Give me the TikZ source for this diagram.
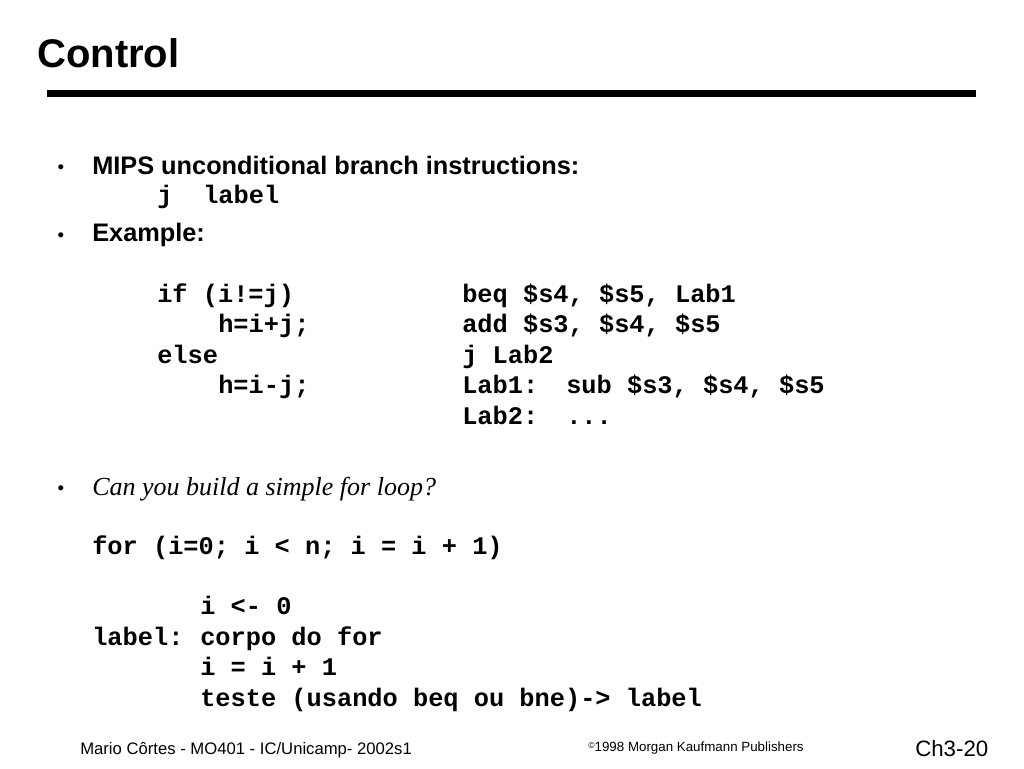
\documentclass[tikz,border=0pt]{standalone}
\usepackage{fontspec}
\setmainfont{Liberation Sans}
\newfontfamily\codefont{Liberation Mono}
\newfontfamily\askfont{Liberation Serif}
\definecolor{slText}{HTML}{000000}
\definecolor{slPaper}{HTML}{FFFFFF}
\usetikzlibrary{positioning}

\begin{document}
\begin{tikzpicture}[x=0.75pt,y=-0.75pt,
  txt/.style={anchor=base west, inner sep=0pt, text=slText},
  bul/.style={inner sep=0pt, text=slText, font=\fontsize{14}{16}\selectfont},
  head/.style={txt, font=\fontsize{19}{22}\selectfont\bfseries},
  code/.style={txt, font=\fontsize{19}{22}\selectfont\codefont\bfseries}]
  \fill[slPaper] (0,0) rectangle (1024,768);
  \useasboundingbox (0,0) rectangle (1024,768);
  % title and rule
  \node[txt, font=\fontsize{30}{36}\selectfont\bfseries] (title) at (37,67) {Control};
  \fill[slText] (47,90) rectangle (976,97);
  % bullets
  \node[bul] (b1) at (61,169) {\textbullet};
  \node[head] (mips) at (92,174) {MIPS unconditional branch instructions:};
  \node[code] (jmp) at (157,203) {j};
  \node[code] (jlab) at (203,203) {label};
  \node[bul] (b2) at (61,237) {\textbullet};
  \node[head] (ex) at (92,241) {Example:};
  % example, C side
  \node[code] (c1) at (157,302) {if (i!=j)};
  \node[code] (c2) at (218,332.5) {h=i+j;};
  \node[code] (c3) at (157,363) {else};
  \node[code] (c4) at (218,393.5) {h=i-j;};
  % example, MIPS side
  \node[code] (m1) at (462,302) {beq \$s4, \$s5, Lab1};
  \node[code] (m2) at (462,332.5) {add \$s3, \$s4, \$s5};
  \node[code] (m3) at (462,363) {j Lab2};
  \node[code] (m4) at (462,393.5) {Lab1:};
  \node[code] (m4b) at (566,393.5) {sub \$s3, \$s4, \$s5};
  \node[code] (m5) at (462,424) {Lab2:};
  \node[code] (m5b) at (566,424) {...};
  % the for loop
  \node[bul] (b3) at (61,490) {\textbullet};
  \node[txt, font=\fontsize{19.5}{23}\selectfont\askfont\itshape] (ask) at (92,495) {Can you build a simple for loop?};
  \node[code] (f0) at (92,554) {for (i=0; i < n; i = i + 1)};
  \node[code] (f1) at (200,614) {i <- 0};
  \node[code] (f2) at (92,645) {label:};
  \node[code] (f2b) at (200,645) {corpo do for};
  \node[code] (f3) at (200,675) {i = i + 1};
  \node[code] (f4) at (200,706) {teste (usando beq ou bne)-> label};
  % footer
  \node[txt, font=\fontsize{12.5}{15}\selectfont] (auth) at (80,754) {Mario Côrtes - MO401 - IC/Unicamp- 2002s1};
  \node[txt, font=\fontsize{10}{12}\selectfont] (copy) at (588,751) {\raisebox{0.35ex}{\fontsize{6.5}{8}\selectfont\copyright}1998 Morgan Kaufmann Publishers};
  \node[txt, font=\fontsize{16.7}{20}\selectfont] (page) at (915,756) {Ch3-20};
\end{tikzpicture}
\end{document}
